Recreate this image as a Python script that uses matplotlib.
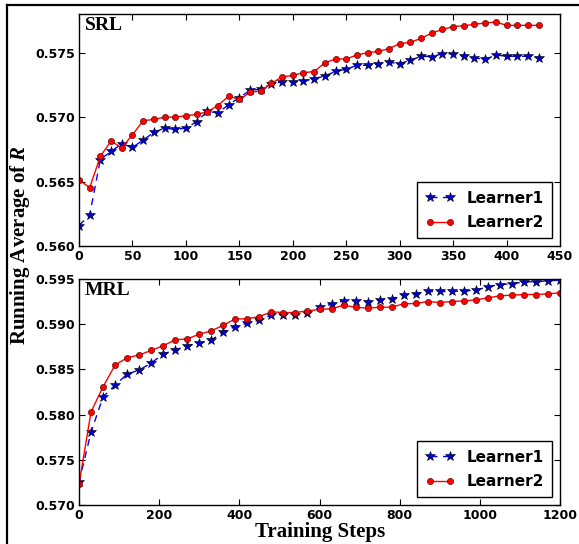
import numpy as np
import matplotlib
matplotlib.use("Agg")
import matplotlib.pyplot as plt
from matplotlib.lines import Line2D

# SRL panel: steps 0..430, every 10
srl_steps = list(range(0, 440, 10))
srl_learner1 = [0.56159, 0.56242, 0.56671, 0.56734, 0.56793, 0.56765, 0.56822, 0.56881,
                0.56915, 0.56904, 0.56915, 0.56964, 0.57044, 0.57034, 0.57096, 0.57152,
                0.57207, 0.57217, 0.57258, 0.57274, 0.57274, 0.57280, 0.57298, 0.57319,
                0.57355, 0.57371, 0.57402, 0.57402, 0.57415, 0.57425, 0.57415, 0.57441,
                0.57472, 0.57469, 0.57492, 0.57492, 0.57472, 0.57459, 0.57448, 0.57482,
                0.57472, 0.57472, 0.57472, 0.57461]
srl_learner2 = [0.56513, 0.56453, 0.56696, 0.56814, 0.56762, 0.56863, 0.56972, 0.56982,
                0.57000, 0.57000, 0.57010, 0.57021, 0.57041, 0.57090, 0.57163, 0.57137,
                0.57191, 0.57204, 0.57261, 0.57313, 0.57323, 0.57345, 0.57353, 0.57422,
                0.57451, 0.57451, 0.57482, 0.57500, 0.57510, 0.57531, 0.57570, 0.57580,
                0.57611, 0.57652, 0.57681, 0.57702, 0.57709, 0.57720, 0.57730, 0.57738,
                0.57712, 0.57712, 0.57712, 0.57712]

# MRL panel: steps 0..1200, every 30
mrl_steps = list(range(0, 1230, 30))
mrl_learner1 = [0.57251, 0.57806, 0.58196, 0.58325, 0.58448, 0.58493, 0.58570, 0.58670,
                0.58718, 0.58762, 0.58788, 0.58825, 0.58914, 0.58974, 0.59011, 0.59044,
                0.59100, 0.59100, 0.59107, 0.59122, 0.59185, 0.59221, 0.59258, 0.59262,
                0.59251, 0.59269, 0.59280, 0.59325, 0.59339, 0.59362, 0.59362, 0.59362,
                0.59369, 0.59376, 0.59413, 0.59439, 0.59446, 0.59469, 0.59469, 0.59480,
                0.59487]
mrl_learner2 = [0.57229, 0.58030, 0.58308, 0.58548, 0.58629, 0.58659, 0.58710, 0.58762,
                0.58827, 0.58838, 0.58889, 0.58926, 0.58989, 0.59059, 0.59059, 0.59085,
                0.59137, 0.59129, 0.59129, 0.59148, 0.59163, 0.59170, 0.59210, 0.59188,
                0.59177, 0.59188, 0.59188, 0.59225, 0.59229, 0.59251, 0.59240, 0.59251,
                0.59258, 0.59269, 0.59291, 0.59314, 0.59321, 0.59328, 0.59328, 0.59336,
                0.59347]

serif = "Liberation Serif"
plt.rcParams["mathtext.fontset"] = "custom"
plt.rcParams["mathtext.bfit"] = serif + ":bold:italic"
plt.rcParams["mathtext.it"] = serif + ":italic"
plt.rcParams["mathtext.rm"] = serif

W, H = 579, 544
fig = plt.figure(figsize=(W / 100, H / 100), dpi=100)

def px_axes(left, top, right, bottom):
    return fig.add_axes([left / W, 1 - bottom / H, (right - left) / W, (bottom - top) / H])


def draw_panel(ax, x, y1, y2, name, xlim, ylim, xticks, yticks):
    ax.plot(x, y1, linestyle="--", dashes=(5, 4), color="b", marker="*", markersize=7,
            markerfacecolor="#0000cc", markeredgecolor="black", markeredgewidth=0.4,
            linewidth=1.0, label="Learner1")
    ax.plot(x, y2, linestyle="-", color="r", marker="o", markersize=4.5,
            markerfacecolor="r", markeredgecolor="#400000", markeredgewidth=0.4,
            linewidth=1.0, label="Learner2")
    ax.set_xlim(*xlim)
    ax.set_ylim(*ylim)
    ax.set_xticks(xticks)
    ax.set_yticks(yticks)
    ax.set_yticklabels(["%.3f" % v for v in yticks])
    ax.tick_params(direction="in", top=True, right=True, length=4, width=0.8,
                   labelsize=9, pad=3)
    for lab in ax.get_xticklabels() + ax.get_yticklabels():
        lab.set_fontweight("bold")
    for sp in ax.spines.values():
        sp.set_linewidth(1.0)
    ax.text(0.012, 0.985, name, transform=ax.transAxes, ha="left", va="top",
            family=serif, fontweight="bold", fontsize=14)
    leg = ax.legend(loc="lower right", numpoints=2, fancybox=False, framealpha=1,
                    edgecolor="black", handlelength=1.9, borderpad=0.55,
                    labelspacing=0.6, prop={"weight": "bold", "size": 11},
                    borderaxespad=0.5)
    leg.get_frame().set_linewidth(1.0)


ax1 = px_axes(79, 14, 560, 246)
draw_panel(ax1, srl_steps, srl_learner1, srl_learner2, "SRL", (0, 450), (0.560, 0.578),
           list(range(0, 451, 50)), [0.560, 0.565, 0.570, 0.575])

ax2 = px_axes(79, 279, 560, 505)
draw_panel(ax2, mrl_steps, mrl_learner1, mrl_learner2, "MRL", (0, 1200), (0.570, 0.595),
           list(range(0, 1201, 200)), [0.570, 0.575, 0.580, 0.585, 0.590, 0.595])

fig.text(320 / W, 1 - 532 / H, "Training Steps", ha="center", va="center",
         family=serif, fontweight="bold", fontsize=15)
fig.text(20 / W, 1 - 245 / H, "Running Average of $\\mathbfit{R}$", ha="center",
         va="center", rotation=90, family=serif, fontweight="bold", fontsize=15)

# outer frame of the figure
fig.add_artist(Line2D([7 / W, 1.0], [1 - 5 / H, 1 - 5 / H], color="black",
                      linewidth=1.6, transform=fig.transFigure))
fig.add_artist(Line2D([7 / W, 7 / W], [1 - 5 / H, 0.0], color="black",
                      linewidth=1.6, transform=fig.transFigure))

fig.savefig("out.png", dpi=100)
